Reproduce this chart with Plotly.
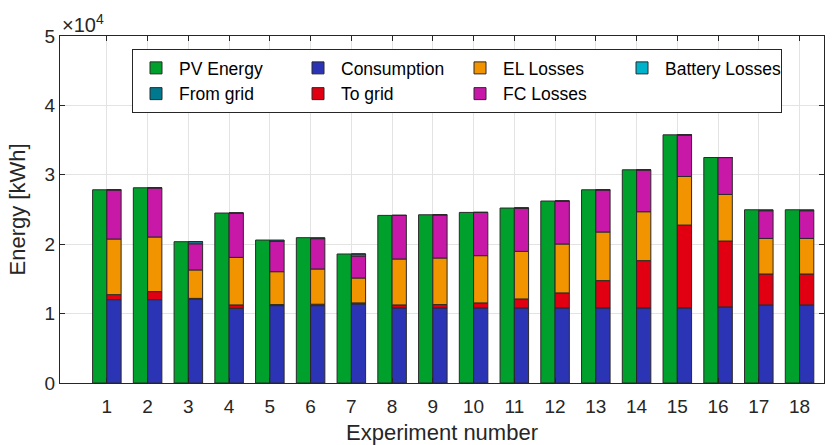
import plotly.graph_objects as go

experiments = list(range(1, 19))
pv_energy = [27840, 28130, 20360, 24490, 20600, 20940, 18590, 24150, 24240,
             24580, 25210, 26220, 27840, 30720, 35760, 32490, 24960, 24960]
consumption = [12010, 12010, 12110, 10770, 11150, 11150, 11390, 10820, 10820,
               10820, 10820, 10820, 10820, 10820, 10820, 10960, 11250, 11250]
to_grid = [720, 1160, 80, 480, 150, 200, 150, 430, 480,
           720, 1290, 2160, 3930, 6810, 11940, 9500, 4460, 4460]
el_losses = [8020, 7870, 4100, 6850, 4740, 5080, 3590, 6620, 6710,
             6810, 6860, 7050, 7010, 7050, 7000, 6710, 5120, 5120]
fc_losses = [7090, 7090, 3770, 6390, 4410, 4380, 3170, 6280, 6230,
             6230, 6240, 6190, 6080, 6040, 6000, 5320, 4010, 4010]
battery_losses = [0, 0, 300, 0, 0, 0, 290, 0, 0,
                  0, 0, 0, 0, 0, 0, 0, 0, 0]
from_grid = [0, 0, 0, 0, 150, 130, 0, 0, 0,
             0, 0, 0, 0, 0, 0, 0, 120, 120]

y_tick_values = [0, 10000, 20000, 30000, 40000, 50000]
y_tick_labels = ["0", "1", "2", "3", "4", "5"]
x_tick_labels = [str(e) for e in experiments]

BAR_W = 0.35
EDGE = dict(color="#2a2a2a", width=1)
FONT = "Liberation Sans, Arial, Helvetica, sans-serif"

fig = go.Figure()

fig.add_trace(go.Bar(
    x=experiments, y=pv_energy, name="PV Energy", width=BAR_W, offset=-BAR_W,
    marker=dict(color="#00A02C", line=EDGE), legendrank=1))

stack = [
    ("Consumption", consumption, "#2B34B4", 2),
    ("To grid", to_grid, "#E00012", 6),
    ("EL Losses", el_losses, "#F29300", 3),
    ("FC Losses", fc_losses, "#C718A8", 7),
    ("Battery Losses", battery_losses, "#00B2CA", 4),
    ("From grid", from_grid, "#00798F", 5),
]
base = [0] * len(experiments)
for name, vals, color, rank in stack:
    fig.add_trace(go.Bar(
        x=experiments, y=vals, base=list(base), name=name, width=BAR_W, offset=0,
        marker=dict(color=color, line=EDGE), legendrank=rank))
    base = [b + v for b, v in zip(base, vals)]

axis_common = dict(
    showline=True, linecolor="#262626", linewidth=1, mirror="ticks",
    ticks="inside", ticklen=5, tickcolor="#262626",
    showgrid=True, gridcolor="#e3e3e3", gridwidth=1, zeroline=False,
    automargin=False,
    tickfont=dict(family=FONT, size=19, color="#262626"),
)

fig.update_layout(
    width=835, height=445,
    margin=dict(l=60, r=11, t=36, b=62),
    plot_bgcolor="white", paper_bgcolor="white",
    barmode="overlay",
    font=dict(family=FONT, color="#262626"),
    xaxis=dict(
        range=[-0.15, 18.6], tickmode="array", tickvals=experiments,
        ticktext=x_tick_labels, ticklabelstandoff=6,
        title=dict(text="Experiment number", font=dict(family=FONT, size=22, color="#262626"),
                   standoff=9),
        **axis_common),
    yaxis=dict(
        range=[0, 50000], tickmode="array", tickvals=y_tick_values,
        ticktext=y_tick_labels,
        title=dict(text="Energy [kWh]", font=dict(family=FONT, size=22, color="#262626"),
                   standoff=12),
        **axis_common),
    legend=dict(
        orientation="h", x=(132 - 60) / 764, y=1 - (49 - 36) / 347,
        xanchor="left", yanchor="top",
        entrywidth=111, entrywidthmode="pixels", itemwidth=36,
        bgcolor="white", bordercolor="#262626", borderwidth=1,
        font=dict(family=FONT, size=17.5, color="#000000"),
        traceorder="normal", tracegroupgap=0,
    ),
    annotations=[dict(
        text="×10<sup>4</sup>", xref="paper", yref="paper", x=0, y=1,
        xanchor="left", yanchor="bottom", showarrow=False, yshift=-2,
        font=dict(family=FONT, size=20, color="#262626"))],
)

fig.write_html("out.html")
